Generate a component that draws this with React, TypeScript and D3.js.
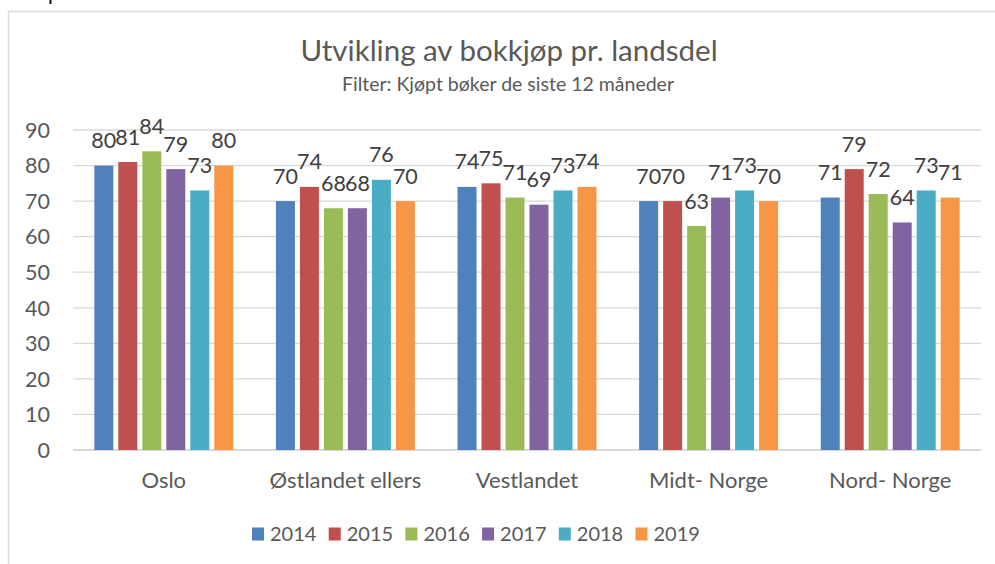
import React from "react";
import * as d3 from "d3";

const categories = ["Oslo", "Østlandet ellers", "Vestlandet", "Midt- Norge", "Nord- Norge"];
const years = ["2014", "2015", "2016", "2017", "2018", "2019"];
const colors = ["#4F81BD", "#C0504D", "#9BBB59", "#8064A2", "#4BACC6", "#F79646"];
const values2014 = [80, 70, 74, 70, 71];
const values2015 = [81, 74, 75, 70, 79];
const values2016 = [84, 68, 71, 63, 72];
const values2017 = [79, 68, 69, 71, 64];
const values2018 = [73, 76, 73, 73, 73];
const values2019 = [80, 70, 74, 70, 71];
const yTicks = [0, 10, 20, 30, 40, 50, 60, 70, 80, 90];

const series = [values2014, values2015, values2016, values2017, values2018, values2019];

const W = 995;
const H = 564;
const FONT = "Lato, 'Liberation Sans', sans-serif";

export default function App() {
  const plotLeft = 73;
  const plotRight = 981;
  const plotTop = 130;
  const plotBottom = 450;

  const x0 = d3.scaleBand<string>().domain(categories).range([plotLeft, plotRight]).padding(0);
  const groupW = x0.bandwidth() * 0.765;
  const x1 = d3.scaleBand<string>().domain(years).range([0, groupW]).paddingInner(5 / 24).paddingOuter(0);
  const y = d3.scaleLinear().domain([0, 90]).range([plotBottom, plotTop]);

  const legendStart = 252;
  const legendStep = 76.7;

  return (
    <svg width={W} height={H} style={{ position: "absolute", left: 0, top: 0, background: "#fff" }} fontFamily={FONT}>
      <rect x={0} y={0} width={W} height={H} fill="#fff" />
      {/* cropped descender of a glyph above the chart */}
      <rect x={49.5} y={0} width={2} height={4} fill="#111" />
      {/* chart border (cropped) */}
      <rect x={8.5} y={11.5} width={W + 20} height={H + 20} fill="none" stroke="#D9D9D9" strokeWidth={1.5} />

      <text x={509} y={61} textAnchor="middle" fontSize={29.5} fill="#595959">Utvikling av bokkjøp pr. landsdel</text>
      <text x={508} y={91} textAnchor="middle" fontSize={19.5} fill="#595959">Filter: Kjøpt bøker de siste 12 måneder</text>

      {yTicks.map((t) => (
        <g key={t}>
          <line x1={plotLeft} x2={plotRight} y1={y(t)} y2={y(t)} stroke="#D9D9D9" strokeWidth={t === 0 ? 2 : 1.3} />
          <text x={50} y={y(t)} dy="0.36em" textAnchor="end" fontSize={21.5} fill="#595959">{t}</text>
        </g>
      ))}

      {categories.map((c, ci) => {
        const gx = (x0(c) as number) + (x0.bandwidth() - groupW) / 2;
        return (
          <g key={c}>
            {years.map((yr, si) => {
              const v = series[si][ci];
              const bx = gx + (x1(yr) as number);
              return (
                <g key={yr}>
                  <rect x={bx} y={y(v)} width={x1.bandwidth()} height={plotBottom - y(v)} fill={colors[si]} />
                  <text x={bx + x1.bandwidth() / 2} y={y(v) - 17.5} textAnchor="middle" fontSize={21.5} fill="#404040">{v}</text>
                </g>
              );
            })}
            <text x={(x0(c) as number) + x0.bandwidth() / 2} y={488} textAnchor="middle" fontSize={22} fill="#595959">{c}</text>
          </g>
        );
      })}

      {years.map((yr, i) => (
        <g key={yr} transform={`translate(${legendStart + i * legendStep},0)`}>
          <rect x={0} y={527.5} width={12} height={13} fill={colors[i]} />
          <text x={18} y={541} fontSize={20} fill="#595959">{yr}</text>
        </g>
      ))}
    </svg>
  );
}
